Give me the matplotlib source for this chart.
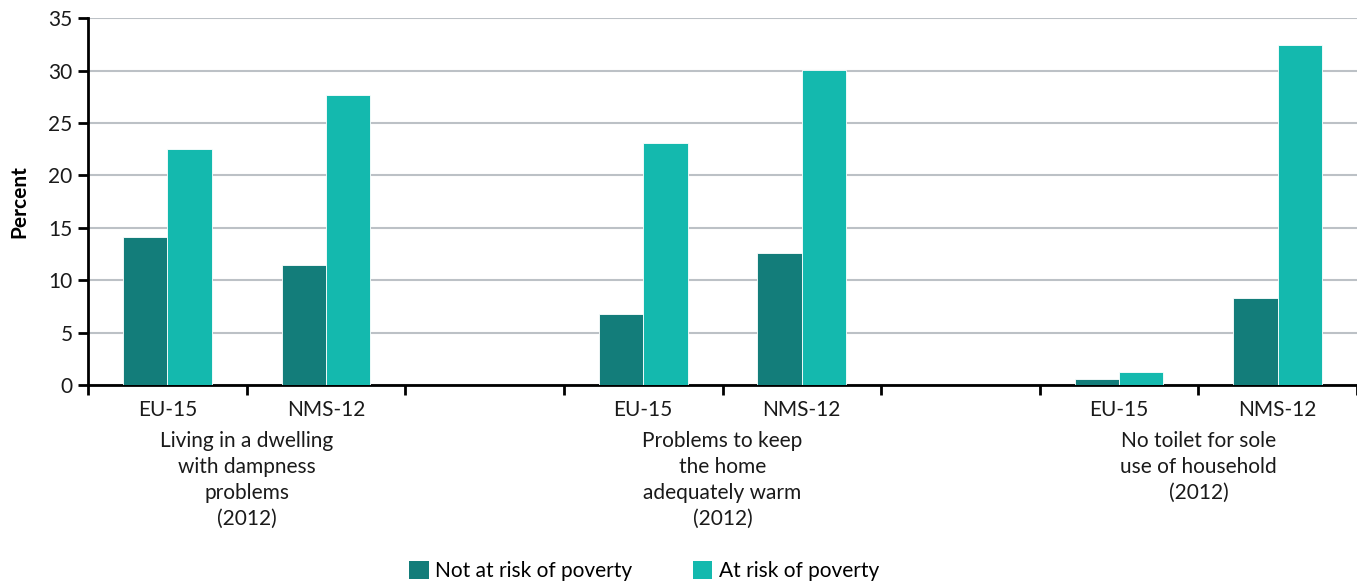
import matplotlib
matplotlib.use("Agg")
import matplotlib.pyplot as plt
from matplotlib.patches import Patch
from matplotlib.transforms import blended_transform_factory

plt.rcParams['font.family'] = ['Lato', 'DejaVu Sans']

categories = ["EU-15", "NMS-12", "", "EU-15", "NMS-12", "", "EU-15", "NMS-12"]
not_at_risk = [14.1, 11.5, None, 6.8, 12.6, None, 0.6, 8.3]
at_risk = [22.55, 27.7, None, 23.1, 30.1, None, 1.2, 32.45]
groups = ["Living in a dwelling\nwith dampness\nproblems\n(2012)",
          "Problems to keep\nthe home\nadequately warm\n(2012)",
          "No toilet for sole\nuse of household\n(2012)"]
group_centers = [0.5, 3.5, 6.5]
series_names = ["Not at risk of poverty", "At risk of poverty"]
yticks = [0, 5, 10, 15, 20, 25, 30, 35]

c_dark = "#137d7a"
c_light = "#14b9ae"
fs = 15

fig = plt.figure(figsize=(13.57, 5.81), dpi=100)
ax = fig.add_axes([88/1357, 1-385/581, 1-88/1357, (385-18.3)/581])

w = 0.28
for i, (a, b) in enumerate(zip(not_at_risk, at_risk)):
    if a is None:
        continue
    ax.bar(i - w/2, a, width=w, color=c_dark, edgecolor="white", linewidth=0.6, zorder=3)
    ax.bar(i + w/2, b, width=w, color=c_light, edgecolor="white", linewidth=0.6, zorder=3)

ax.set_xlim(-0.5, 7.5)
ax.set_ylim(0, 35)
ax.set_yticks(yticks)
ax.yaxis.grid(True, color="#bcc1c6", linewidth=1.5, zorder=0)
ax.set_axisbelow(True)

ax.set_xticks(range(len(categories)))
ax.set_xticklabels(categories, fontsize=fs, color="#1a1a1a")
ax.tick_params(axis="x", which="major", length=0, pad=11)
ax.set_xticks([i - 0.5 for i in range(len(categories) + 1)], minor=True)
ax.tick_params(axis="x", which="minor", length=7, width=2, direction="out", color="black")
ax.tick_params(axis="y", length=7, width=2, direction="out", labelsize=fs, labelcolor="#1a1a1a", pad=4)

for s in ["top", "right"]:
    ax.spines[s].set_visible(False)
ax.spines["left"].set_linewidth(2)
ax.spines["bottom"].set_linewidth(2)

ax.set_ylabel("Percent", fontsize=fs, fontweight="bold", labelpad=14)

trans = blended_transform_factory(ax.transData, fig.transFigure)
for gx, gl in zip(group_centers, groups):
    ax.text(gx, 1 - 431/581, gl, transform=trans, ha="center", va="top",
            fontsize=fs, linespacing=1.38, color="#1a1a1a")

handles = [Patch(facecolor=c_dark, edgecolor="none"), Patch(facecolor=c_light, edgecolor="none")]
fig.legend(handles, series_names, loc="center", bbox_to_anchor=(644/1357, 1-571/581),
           ncol=2, frameon=False, fontsize=fs, handlelength=0.95, handleheight=0.95,
           handletextpad=0.3, columnspacing=2.9, borderpad=0, borderaxespad=0)

fig.savefig("out.png", dpi=100)
